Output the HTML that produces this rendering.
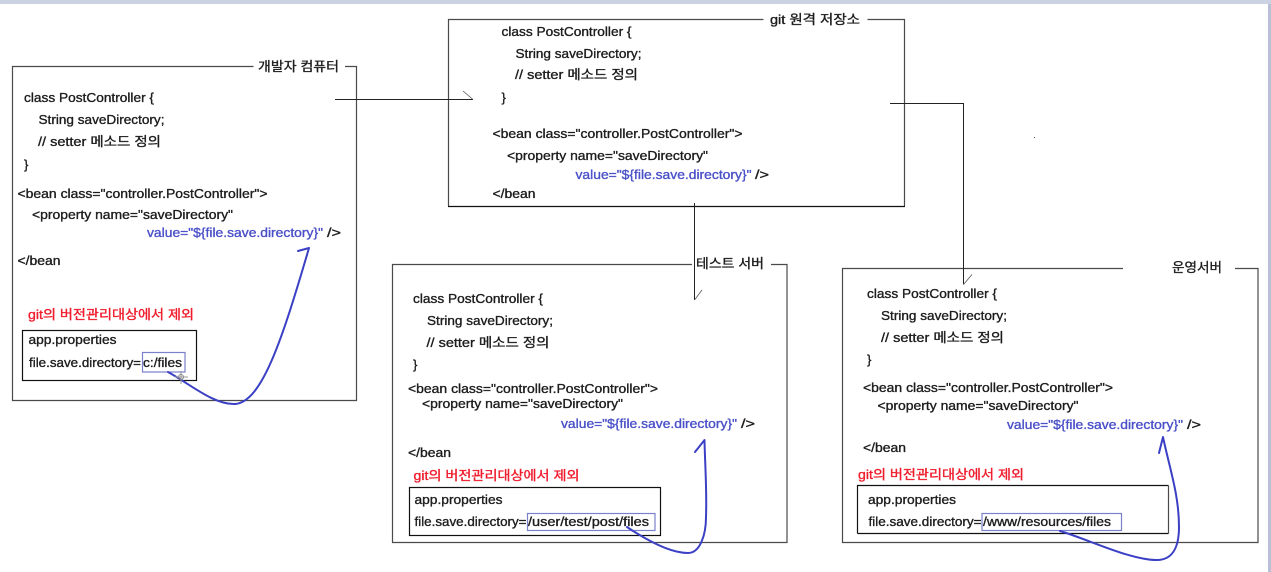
<!DOCTYPE html>
<html lang="ko">
<head>
<meta charset="utf-8">
<title>Diagram</title>
<style>
html,body{margin:0;padding:0;background:#fff;width:1271px;height:572px;overflow:hidden}
svg{display:block}
text{font-family:"Liberation Sans","Noto Sans CJK KR",sans-serif;font-size:13px;fill:#1c1c1c;stroke:#1c1c1c;stroke-width:.35}
.v{fill:#4a50c8;stroke:#4a50c8}
.r{fill:#f01c2c;stroke:#f01c2c}
.b{fill:none;stroke:#4a4a4a;stroke-width:1.2}
.k{fill:none;stroke:#111;stroke-width:1.2}
.c{fill:none;stroke:#222;stroke-width:1}
.t{fill:none;stroke:#555;stroke-width:.8}
.bl{fill:none;stroke:#7a80cc;stroke-width:1.2}
.h{fill:none;stroke:#3b40c4;stroke-width:2;stroke-linecap:round;stroke-linejoin:round}
</style>
</head>
<body>
<svg width="1271" height="572" viewBox="0 0 1271 572" xmlns="http://www.w3.org/2000/svg">
<rect x="0" y="0" width="1271" height="4" fill="#cbd2e2"/>
<rect x="1268" y="4" width="3" height="568" fill="#b8bfd6"/>

<!-- left box -->
<path class="b" d="M253.5 66.5H12.5V400.5H356.5V66.5H345"/>
<text x="258" y="71" textLength="81" lengthAdjust="spacingAndGlyphs">개발자 컴퓨터</text>
<text x="24" y="102" textLength="130" lengthAdjust="spacingAndGlyphs">class PostController {</text>
<text x="38.5" y="124" textLength="126" lengthAdjust="spacingAndGlyphs">String saveDirectory;</text>
<text x="38" y="146" textLength="123" lengthAdjust="spacingAndGlyphs">// setter 메소드 정의</text>
<text x="24" y="169">}</text>
<text x="17.5" y="198" textLength="250" lengthAdjust="spacingAndGlyphs">&lt;bean class="controller.PostController"&gt;</text>
<text x="32" y="219" textLength="201" lengthAdjust="spacingAndGlyphs">&lt;property name="saveDirectory"</text>
<text class="v" x="147" y="237" textLength="176" lengthAdjust="spacingAndGlyphs">value="${file.save.directory}"</text>
<text x="327" y="237" textLength="14" lengthAdjust="spacingAndGlyphs">/&gt;</text>
<text x="17.5" y="265" textLength="43" lengthAdjust="spacingAndGlyphs">&lt;/bean</text>
<text class="r" x="28" y="319" textLength="166" lengthAdjust="spacingAndGlyphs">git의 버전관리대상에서 제외</text>
<rect class="k" x="22.5" y="330.5" width="174" height="50"/>
<text x="28.5" y="344" textLength="88" lengthAdjust="spacingAndGlyphs">app.properties</text>
<text x="29" y="367" textLength="112" lengthAdjust="spacingAndGlyphs">file.save.directory=</text>
<rect class="bl" x="142.5" y="352.5" width="42.5" height="19.5"/>
<text x="143" y="367" textLength="39" lengthAdjust="spacingAndGlyphs">c:/files</text>

<!-- git box -->
<path class="b" d="M763.5 19.5H448.5V206"/>
<path class="b" d="M867.5 19.5H904.5V206"/>
<path class="k" d="M448 206.5H905"/>
<text x="770" y="24" textLength="90" lengthAdjust="spacingAndGlyphs">git 원격 저장소</text>
<text x="501.5" y="36" textLength="130" lengthAdjust="spacingAndGlyphs">class PostController {</text>
<text x="515.5" y="58" textLength="126" lengthAdjust="spacingAndGlyphs">String saveDirectory;</text>
<text x="515" y="79" textLength="123" lengthAdjust="spacingAndGlyphs">// setter 메소드 정의</text>
<text x="501.5" y="102">}</text>
<text x="492.5" y="138" textLength="250" lengthAdjust="spacingAndGlyphs">&lt;bean class="controller.PostController"&gt;</text>
<text x="507" y="160" textLength="201" lengthAdjust="spacingAndGlyphs">&lt;property name="saveDirectory"</text>
<text class="v" x="575.5" y="179" textLength="176" lengthAdjust="spacingAndGlyphs">value="${file.save.directory}"</text>
<text x="755" y="179" textLength="14" lengthAdjust="spacingAndGlyphs">/&gt;</text>
<text x="492.5" y="198" textLength="43" lengthAdjust="spacingAndGlyphs">&lt;/bean</text>

<!-- test box -->
<path class="b" d="M692 264.5H392.5V542.5H787V264.5H771"/>
<text x="696" y="268" textLength="68" lengthAdjust="spacingAndGlyphs">테스트 서버</text>
<text x="413" y="303" textLength="130" lengthAdjust="spacingAndGlyphs">class PostController {</text>
<text x="427" y="325" textLength="126" lengthAdjust="spacingAndGlyphs">String saveDirectory;</text>
<text x="426.5" y="347" textLength="123" lengthAdjust="spacingAndGlyphs">// setter 메소드 정의</text>
<text x="413" y="369">}</text>
<text x="408" y="393" textLength="250" lengthAdjust="spacingAndGlyphs">&lt;bean class="controller.PostController"&gt;</text>
<text x="422" y="408" textLength="201" lengthAdjust="spacingAndGlyphs">&lt;property name="saveDirectory"</text>
<text class="v" x="561" y="428" textLength="176" lengthAdjust="spacingAndGlyphs">value="${file.save.directory}"</text>
<text x="741" y="428" textLength="14" lengthAdjust="spacingAndGlyphs">/&gt;</text>
<text x="408" y="457" textLength="43" lengthAdjust="spacingAndGlyphs">&lt;/bean</text>
<text class="r" x="413.5" y="480" textLength="166" lengthAdjust="spacingAndGlyphs">git의 버전관리대상에서 제외</text>
<rect class="k" x="409.5" y="487.5" width="251" height="48"/>
<text x="414.5" y="504" textLength="88" lengthAdjust="spacingAndGlyphs">app.properties</text>
<text x="414.5" y="526" textLength="112" lengthAdjust="spacingAndGlyphs">file.save.directory=</text>
<rect class="bl" x="527.5" y="513.5" width="127.5" height="17"/>
<text x="528" y="526" textLength="121" lengthAdjust="spacingAndGlyphs">/user/test/post/files</text>

<!-- production box -->
<path class="b" d="M1123 268.5H842.5V542.5H1258V268.5H1235"/>
<text x="1172" y="272" textLength="50" lengthAdjust="spacingAndGlyphs">운영서버</text>
<text x="867" y="298" textLength="130" lengthAdjust="spacingAndGlyphs">class PostController {</text>
<text x="881" y="320" textLength="126" lengthAdjust="spacingAndGlyphs">String saveDirectory;</text>
<text x="881" y="342" textLength="123" lengthAdjust="spacingAndGlyphs">// setter 메소드 정의</text>
<text x="867" y="364">}</text>
<text x="863" y="392" textLength="250" lengthAdjust="spacingAndGlyphs">&lt;bean class="controller.PostController"&gt;</text>
<text x="877.5" y="410" textLength="201" lengthAdjust="spacingAndGlyphs">&lt;property name="saveDirectory"</text>
<text class="v" x="1007" y="429" textLength="176" lengthAdjust="spacingAndGlyphs">value="${file.save.directory}"</text>
<text x="1187" y="429" textLength="14" lengthAdjust="spacingAndGlyphs">/&gt;</text>
<text x="863" y="452" textLength="43" lengthAdjust="spacingAndGlyphs">&lt;/bean</text>
<text class="r" x="858" y="479" textLength="166" lengthAdjust="spacingAndGlyphs">git의 버전관리대상에서 제외</text>
<path class="k" d="M857.5 533.5V485.5H1168.5"/>
<path class="k" d="M857.5 533.5H1168.5"/>
<path class="b" d="M1168.5 485.5V533.5"/>
<text x="868" y="504" textLength="88" lengthAdjust="spacingAndGlyphs">app.properties</text>
<text x="868.5" y="526" textLength="113" lengthAdjust="spacingAndGlyphs">file.save.directory=</text>
<rect class="bl" x="982" y="513.5" width="139.5" height="17"/>
<text x="983" y="526" textLength="128" lengthAdjust="spacingAndGlyphs">/www/resources/files</text>

<!-- connectors -->
<path class="c" d="M335 99.5H473"/>
<path class="t" d="M463 91L473 99.5"/>
<path class="c" d="M890 103.5H963.5"/>
<path class="c" d="M963.5 103V284.5"/>
<path class="t" d="M963.5 284.5L972 274.5"/>
<path class="c" d="M694.5 203V300"/>
<path class="t" d="M694.5 300L702 290"/>

<!-- blue hand-drawn curves -->
<path class="h" d="M168 372C190 384 214 405 235 404C262 402 282 340 309 248L298 251"/>
<path class="h" d="M627 527C645 539 670 553 688 553C700 553 706 535 706 517C707 490 705 465 704.5 440L695 452"/>
<path class="h" d="M1060 531C1090 540 1130 560 1157 560C1172 560 1179 548 1179 527C1179 495 1170 470 1163 437L1159 453"/>

<!-- cursor + speck -->
<path d="M175 377H188M181 371V384" stroke="#999" stroke-width="1" fill="none"/>
<circle cx="181" cy="377" r="2.5" fill="none" stroke="#888" stroke-width="1"/>
<rect x="1034" y="137" width="1" height="1" fill="#555"/>
</svg>
</body>
</html>
